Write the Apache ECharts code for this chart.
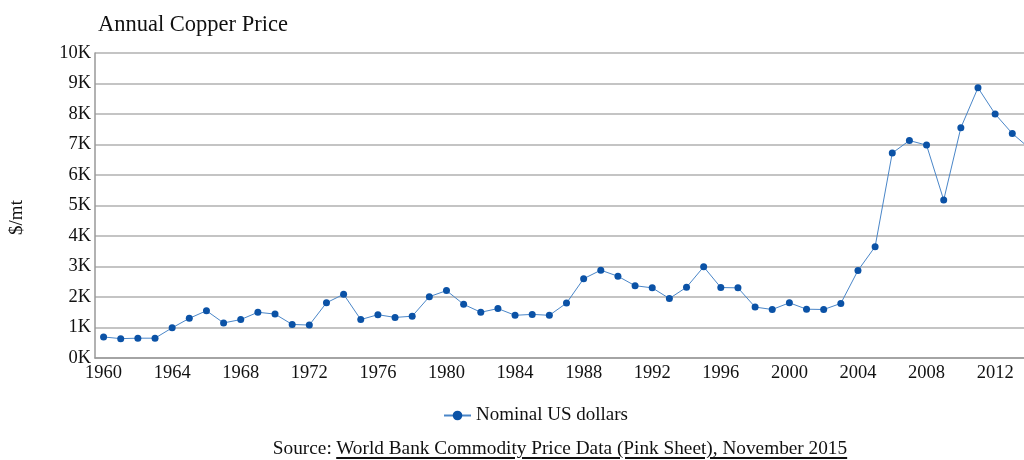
<!DOCTYPE html>
<html>
<head>
<meta charset="utf-8">
<script src="https://cdn.jsdelivr.net/npm/echarts@6/dist/echarts.min.js"></script>
<style>
  html, body { margin: 0; padding: 0; background: #fff; overflow: hidden; }
  #wrap { position: relative; width: 1024px; height: 460px; overflow: hidden; }
  #chart { width: 1060px; height: 460px; }
  #source { position: absolute; left: 48px; top: 437px; width: 1024px; text-align: center;
    font-family: "Liberation Serif", serif; font-size: 19.3px; color: #111; white-space: nowrap; }
  #source u { text-decoration-thickness: 2px; text-underline-offset: 3px; }
</style>
</head>
<body>
<div id="wrap">
  <div id="chart"></div>
  <div id="source">Source: <u>World Bank Commodity Price Data (Pink Sheet), November 2015</u></div>
</div>
<script>
const years = ["1960","1961","1962","1963","1964","1965","1966","1967","1968","1969",
  "1970","1971","1972","1973","1974","1975","1976","1977","1978","1979",
  "1980","1981","1982","1983","1984","1985","1986","1987","1988","1989",
  "1990","1991","1992","1993","1994","1995","1996","1997","1998","1999",
  "2000","2001","2002","2003","2004","2005","2006","2007","2008","2009",
  "2010","2011","2012","2013","2014"];
const nominalUSD = [690, 635, 650, 650, 990, 1300, 1550, 1150, 1260, 1500,
  1440, 1100, 1080, 1810, 2090, 1260, 1420, 1330, 1370, 2010,
  2210, 1760, 1500, 1620, 1400, 1430, 1400, 1800, 2600, 2880,
  2680, 2370, 2300, 1950, 2320, 2990, 2310, 2300, 1670, 1590,
  1810, 1600, 1590, 1790, 2870, 3650, 6720, 7130, 6980, 5180,
  7550, 8860, 8000, 7360, 6880];
const seriesName = "Nominal US dollars";
const yTicks = { min: 0, max: 10000, step: 1000 };

const font = "Liberation Serif";
const chart = echarts.init(document.getElementById('chart'), null, { renderer: 'canvas' });
chart.setOption({
  animation: false,
  backgroundColor: '#fff',
  title: {
    text: 'Annual Copper Price',
    left: 93, top: 9,
    textStyle: { fontFamily: font, fontSize: 22.5, fontWeight: 'normal', color: '#111' }
  },
  grid: { left: 95, top: 53, height: 305, width: 943, containLabel: false },
  legend: {
    data: [seriesName],
    top: 401, left: 438,
    itemWidth: 27, itemHeight: 12,
    itemGap: 8,
    textStyle: { fontFamily: font, fontSize: 19, color: '#111' }
  },
  xAxis: {
    type: 'category',
    data: years,
    boundaryGap: true,
    axisLine: { lineStyle: { color: '#999', width: 1.5 } },
    axisTick: { interval: 3, alignWithLabel: true, length: 5, lineStyle: { color: '#999' } },
    axisLabel: { interval: 3, margin: 6, fontFamily: font, fontSize: 18.5, color: '#111' },
    splitLine: { show: false }
  },
  yAxis: {
    type: 'value',
    min: yTicks.min, max: yTicks.max, interval: yTicks.step,
    name: '$/mt',
    nameLocation: 'middle',
    nameGap: 68,
    nameRotate: 90,
    nameTextStyle: { fontFamily: font, fontSize: 19, color: '#111', padding: [0, 24, 0, 0] },
    axisLine: { show: true, lineStyle: { color: '#999', width: 1.5 } },
    axisTick: { show: false },
    axisLabel: { margin: 4, fontFamily: font, fontSize: 18.5, color: '#111',
      formatter: v => (v / 1000) + 'K' },
    splitLine: { lineStyle: { color: '#b0b0b0', width: 1.5 } }
  },
  series: [{
    name: seriesName,
    type: 'line',
    data: nominalUSD,
    symbol: 'circle',
    symbolSize: 7,
    lineStyle: { color: '#4a86c8', width: 1 },
    itemStyle: { color: '#0b52a6' }
  }]
});
</script>
</body>
</html>
